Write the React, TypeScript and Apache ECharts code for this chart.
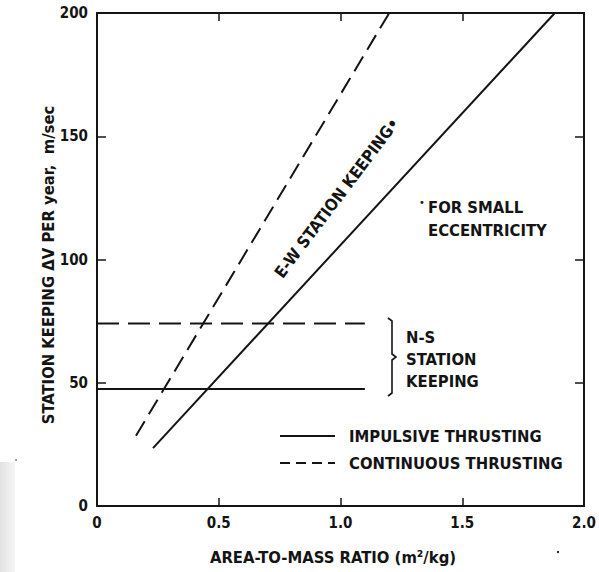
import React, { useEffect, useRef } from "react";
import * as echarts from "echarts";

// ---- data ----
const ewImpulsiveX = [0.23, 1.88];
const ewImpulsiveY = [23.5, 200];
const ewContinuousX = [0.16, 1.2];
const ewContinuousY = [28.5, 200];
const nsX = [0, 1.1];
const nsImpulsiveY = [47.5, 47.5];
const nsContinuousY = [74, 74];

const xTicks = [0, 0.5, 1.0, 1.5, 2.0];
const xTickLabels = ["0", "0.5", "1.0", "1.5", "2.0"];
const yTicks = [0, 50, 100, 150, 200];

const FONT = "DejaVu Sans Condensed";
const INK = "#141414";
const FS = 16.5;

const pairs = (xs: number[], ys: number[]) => xs.map((x, i) => [x, ys[i]]);

export default function App() {
  const ref = useRef<HTMLDivElement>(null);

  useEffect(() => {
    if (!ref.current) return;
    const chart = echarts.init(ref.current, undefined, { renderer: "svg" });

    const baseX = {
      type: "value" as const,
      min: 0,
      max: 2,
      interval: 0.5,
      splitLine: { show: false },
      axisLine: { show: true, onZero: false, lineStyle: { color: INK, width: 2 } },
      axisTick: { show: true, inside: true, length: 8, lineStyle: { color: INK, width: 1.5 } },
    };
    const baseY = {
      type: "value" as const,
      min: 0,
      max: 200,
      interval: 50,
      splitLine: { show: false },
      axisLine: { show: true, onZero: false, lineStyle: { color: INK, width: 2 } },
      axisTick: { show: true, inside: true, length: 9, lineStyle: { color: INK, width: 1.5 } },
    };
    const labelStyle = {
      fontFamily: FONT,
      fontSize: 15,
      fontWeight: "bold" as const,
      color: INK,
    };
    const txt = (text: string, x: number, y: number, align = "left", extra: any = {}) => ({
      type: "text",
      x,
      y,
      ...extra,
      style: {
        text,
        align,
        verticalAlign: "middle",
        fontFamily: FONT,
        fontSize: FS,
        fontWeight: "bold",
        fill: INK,
      },
    });

    const lineSeries = (name: string, data: number[][], dashed: number[] | null) => ({
      type: "line" as const,
      name,
      data,
      showSymbol: false,
      symbol: "none",
      lineStyle: { color: INK, width: 2, type: dashed ? dashed : "solid" },
      silent: true,
    });

    const option = {
      animation: false,
      backgroundColor: "#ffffff",
      grid: { left: 97, top: 13, width: 490, height: 493, containLabel: false },
      xAxis: [
        {
          ...baseX,
          position: "bottom",
          axisLabel: {
            ...labelStyle,
            margin: 9,
            formatter: (v: number) => {
              const i = xTicks.findIndex((t) => Math.abs(t - v) < 1e-6);
              return i >= 0 ? xTickLabels[i] : "";
            },
          },
        },
        { ...baseX, position: "top", axisLabel: { show: false } },
      ],
      yAxis: [
        {
          ...baseY,
          position: "left",
          axisLabel: {
            ...labelStyle,
            margin: 9,
            formatter: (v: number) => (yTicks.includes(v) ? String(v) : ""),
          },
        },
        { ...baseY, position: "right", axisLabel: { show: false } },
      ],
      series: [
        lineSeries("E-W impulsive", pairs(ewImpulsiveX, ewImpulsiveY), null),
        lineSeries("E-W continuous", pairs(ewContinuousX, ewContinuousY), [17, 8]),
        lineSeries("N-S impulsive", pairs(nsX, nsImpulsiveY), null),
        lineSeries("N-S continuous", pairs(nsX, nsContinuousY), [22, 9]),
      ],
      graphic: [
        // scan artefact at the lower left
        {
          type: "rect",
          shape: { x: 0, y: 462, width: 15, height: 110 },
          style: {
            fill: new echarts.graphic.LinearGradient(0, 0, 1, 0, [
              { offset: 0, color: "#e2e2e2" },
              { offset: 1, color: "#f6f6f6" },
            ]),
          },
          silent: true,
        },
        { type: "circle", shape: { cx: 16, cy: 460, r: 0.8 }, style: { fill: "#666" } },
        { type: "circle", shape: { cx: 558, cy: 552, r: 1.2 }, style: { fill: "#222" } },
        // axis titles
        txt("STATION KEEPING ΔV PER year,  m/sec", 48, 265, "center", { rotation: Math.PI / 2 }),
        txt("AREA-TO-MASS RATIO (m²/kg)", 333, 557, "center"),
        // E-W label along the lines
        txt("E-W STATION KEEPING•", 337, 198, "center", { rotation: (53 * Math.PI) / 180 }),
        // footnote
        {
          type: "text",
          x: 419,
          y: 202,
          style: { text: "•", align: "left", verticalAlign: "middle", fontFamily: FONT, fontSize: 11, fill: INK },
        },
        txt("FOR SMALL", 428, 207),
        txt("ECCENTRICITY", 428, 230),
        // N-S bracket
        {
          type: "polyline",
          shape: {
            points: [
              [388, 318],
              [392, 321],
              [392, 354],
              [396, 357],
              [392, 360],
              [392, 393],
              [388, 396],
            ],
          },
          style: { stroke: INK, lineWidth: 1.6, fill: "none" },
        },
        ...["N-S", "STATION", "KEEPING"].map((t, i) => txt(t, 406, 337 + i * 22)),
        // legend
        {
          type: "line",
          shape: { x1: 280, y1: 436, x2: 335, y2: 436 },
          style: { stroke: INK, lineWidth: 2 },
        },
        {
          type: "line",
          shape: { x1: 280, y1: 463, x2: 335, y2: 463 },
          style: { stroke: INK, lineWidth: 2, lineDash: [10, 6] },
        },
        txt("IMPULSIVE THRUSTING", 349, 436),
        txt("CONTINUOUS THRUSTING", 349, 463),
      ],
    };

    chart.setOption(option as any);
    return () => chart.dispose();
  }, []);

  return (
    <div
      ref={ref}
      style={{ position: "fixed", left: 0, top: 0, width: 599, height: 572, background: "#fff" }}
    />
  );
}
